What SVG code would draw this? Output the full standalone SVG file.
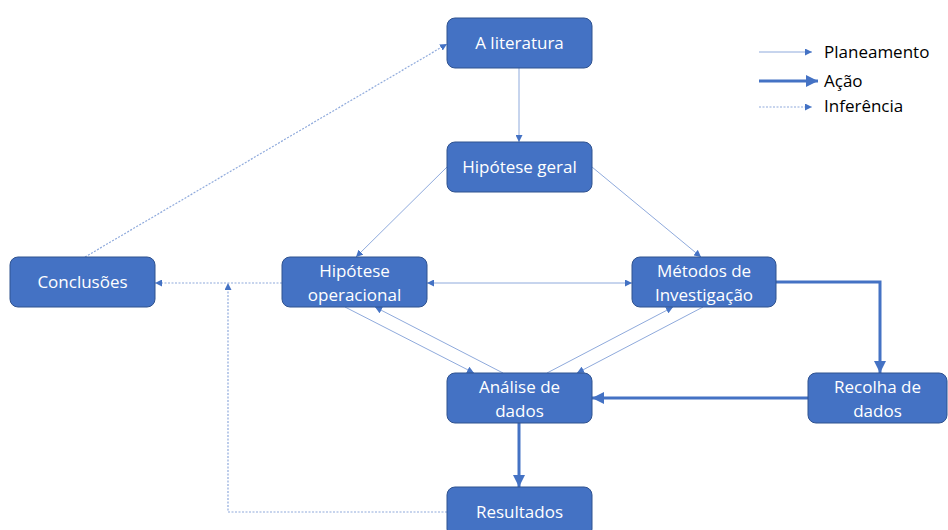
<svg xmlns="http://www.w3.org/2000/svg" width="948" height="530" viewBox="0 0 948 530">
<defs>
<style>
.node rect{fill:#4472C4;stroke:#2F528F;stroke-width:1}
.node text,.lbl{font-family:"Open Sans","Liberation Sans",sans-serif;font-size:17px}
.node text{fill:#FFFFFF;text-anchor:middle}
.lbl{fill:#000000}
.plan{stroke:#8FAADC;stroke-width:1;fill:none}
.acao{stroke:#4472C4;stroke-width:3;fill:none}
.inf{stroke:#8FAADC;stroke-width:1.2;fill:none;stroke-dasharray:2 1.5}
</style>
<marker id="aT" viewBox="0 0 10 10" refX="10" refY="5" markerWidth="7" markerHeight="7" markerUnits="userSpaceOnUse" orient="auto-start-reverse">
<path d="M0,0 L10,5 L0,10 z" fill="#4472C4"/>
</marker>
<marker id="aK" viewBox="0 0 10 10" refX="10" refY="5" markerWidth="4" markerHeight="4" orient="auto-start-reverse">
<path d="M0,0 L10,5 L0,10 z" fill="#4472C4"/>
</marker>
</defs>
<rect width="948" height="530" fill="#FFFFFF"/>
<g id="connectors">
<line class="plan" x1="519" y1="68" x2="519" y2="142" marker-end="url(#aT)"/>
<line class="plan" x1="447" y1="167" x2="356" y2="257" marker-end="url(#aT)"/>
<line class="plan" x1="592" y1="167" x2="701" y2="257" marker-end="url(#aT)"/>
<line class="plan" x1="427" y1="283" x2="632" y2="283" marker-start="url(#aT)" marker-end="url(#aT)"/>
<line class="plan" x1="345" y1="307" x2="474" y2="373" marker-end="url(#aT)"/>
<line class="plan" x1="503" y1="373" x2="375" y2="307" marker-end="url(#aT)"/>
<line class="plan" x1="547" y1="373" x2="673" y2="307" marker-end="url(#aT)"/>
<line class="plan" x1="703" y1="307" x2="577" y2="373" marker-end="url(#aT)"/>
<polyline class="acao" points="776,282 880,282 880,373" marker-end="url(#aK)"/>
<line class="acao" x1="808" y1="398" x2="592" y2="398" marker-end="url(#aK)"/>
<line class="acao" x1="519" y1="423" x2="519" y2="487" marker-end="url(#aK)"/>
<line class="inf" x1="282" y1="283" x2="155" y2="283" marker-end="url(#aT)"/>
<polyline class="inf" points="447,512 228,512 228,283" marker-end="url(#aT)"/>
<line class="inf" x1="85" y1="257" x2="447" y2="44" marker-end="url(#aT)"/>
</g>
<g id="legend">
<line class="plan" x1="759" y1="52" x2="812" y2="52" marker-end="url(#aT)"/>
<line class="acao" x1="759" y1="81" x2="818" y2="81" marker-end="url(#aK)"/>
<line class="inf" x1="759" y1="107" x2="812" y2="107" marker-end="url(#aT)"/>
<text class="lbl" x="824" y="58">Planeamento</text>
<text class="lbl" x="824" y="87">Ação</text>
<text class="lbl" x="824" y="112">Inferência</text>
</g>
<g id="n-literatura" class="node"><rect x="447" y="18" width="145" height="50" rx="8"/><text x="519.5" y="49">A literatura</text></g>
<g id="n-hgeral" class="node"><rect x="447" y="142" width="145" height="50" rx="8"/><text x="519.5" y="173">Hipótese geral</text></g>
<g id="n-conclusoes" class="node"><rect x="10" y="257" width="145" height="50" rx="8"/><text x="82.5" y="288">Conclusões</text></g>
<g id="n-hoper" class="node"><rect x="282" y="257" width="145" height="50" rx="8"/><text x="354.5" y="277">Hipótese</text><text x="354.5" y="301">operacional</text></g>
<g id="n-metodos" class="node"><rect x="632" y="257" width="144" height="50" rx="8"/><text x="704" y="277">Métodos de</text><text x="704" y="301">Investigação</text></g>
<g id="n-analise" class="node"><rect x="447" y="373" width="145" height="50" rx="8"/><text x="519.5" y="393">Análise de</text><text x="519.5" y="417">dados</text></g>
<g id="n-recolha" class="node"><rect x="808" y="373" width="139" height="50" rx="8"/><text x="877.5" y="393">Recolha de</text><text x="877.5" y="417">dados</text></g>
<g id="n-resultados" class="node"><rect x="447" y="487" width="145" height="50" rx="8"/><text x="519.5" y="518">Resultados</text></g>
</svg>
